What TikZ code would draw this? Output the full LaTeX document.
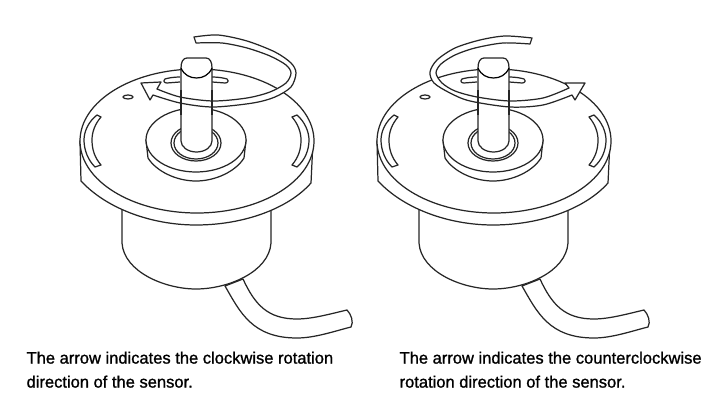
\documentclass[tikz,border=0pt]{standalone}
\usepackage{fontspec}
\setmainfont[FakeBold=1.2]{Liberation Sans}
\begin{document}
\begin{tikzpicture}[x=0.02cm, y=-0.02cm, line width=0.7pt, line join=round,
    part/.style={draw=black!85, fill=white},
    caption/.style={anchor=north west, inner sep=0pt, align=left, font=\fontsize{9.4}{13.66}\selectfont},
  ]

\useasboundingbox (0,0) rectangle (722,408);

%both sensors
\foreach \dx in {0,297}
{
\begin{scope}[xshift=\dx*0.02cm]
	%cable
	\draw[part] (225,286) .. controls (240,312) and (252,338) .. (297,338) .. controls (315,338) and (335,331) .. (351,327) .. controls (354,322) and (351,314) .. (347,310) .. controls (330,314) and (312,319) .. (297,319) .. controls (268,319) and (255,305) .. (243,279) -- cycle;
	%body
	\draw[part] (122,200) -- (122,243) .. controls (124,272) and (165,289) .. (196,289) .. controls (228,289) and (269,272) .. (271,243) -- (271,200);
	%disc
	\draw[part] (80,141) -- (81,181) .. controls (107,209) and (152,225) .. (196,225) .. controls (243,225) and (288,209) .. (311,183) -- (313,141) -- cycle;
	\draw[part] (197,141) ellipse [x radius=117, y radius=72];
	%slots
	\draw[part] (97,115) .. controls (88,122) and (84,132) .. (84,140) .. controls (84,150) and (88,160) .. (95,167) -- (101,165) .. controls (95,158) and (92,150) .. (92,140) .. controls (92,132) and (95,124) .. (101,117) -- cycle;
	\draw[part] (297,115) .. controls (305,122) and (309,132) .. (309,140) .. controls (309,150) and (305,160) .. (297,167) -- (292,165) .. controls (298,158) and (301,150) .. (301,140) .. controls (301,132) and (298,124) .. (292,117) -- cycle;
	\draw[part] (180,77) .. controls (174,77) and (168,78) .. (165,79) .. controls (163,81) and (164,83) .. (167,83) -- (180,82);
	\draw[part] (212,77) .. controls (218,77) and (224,78) .. (227,79) .. controls (229,81) and (228,83) .. (225,83) -- (212,82);
	\draw[part] (128,97) ellipse [x radius=5, y radius=2];
	%boss
	\draw[part] (146,140) -- (148,158) .. controls (156,171) and (176,181) .. (196,181) .. controls (216,181) and (236,171) .. (244,158) -- (246,140) -- cycle;
	\draw[part] (196,140) ellipse [x radius=50, y radius=32];
	\draw[part] (196,143) ellipse [x radius=25, y radius=18];
	\draw[part] (196,143) ellipse [x radius=22, y radius=16];
	%shaft
	\draw[part] (181,68) .. controls (181,62) and (183,58) .. (187,58) -- (206,58) .. controls (210,58) and (212,62) .. (212,68) -- (212,141) .. controls (212,147) and (205,152) .. (196.5,152) .. controls (188,152) and (181,147) .. (181,141) -- cycle;
	\draw (181,68) .. controls (184,75) and (190,78) .. (196.5,78) .. controls (203,78) and (209,75) .. (212,68);
\end{scope}
}

%arrow clockwise
\draw[part] plot[smooth] coordinates {(194,37) (218,35) (247,41) (275,52) (291,63) (296,73) (291,87) (275,97) (253,103) (213,107) (180,103) (153,95)}
	-- (150,100) -- (141,83) -- (161,82) -- (157,89)
	-- plot[smooth] coordinates {(157,89) (180,97) (213,101) (247,98) (270,92) (286,83) (291,73) (286,65) (270,56) (247,48) (222,43) (196,43)} -- cycle;

%arrow counterclockwise
\draw[part] plot[smooth] coordinates {(532,38) (505,36) (480,40) (455,48) (437,60) (430,72) (434,83) (450,93) (470,101) (510,107) (543,105) (572,95)}
	-- (575,100) -- (585,83) -- (565,83) -- (569,88)
	-- plot[smooth] coordinates {(569,88) (543,98) (510,101) (477,97) (455,91) (442,83) (436,73) (441,64) (455,55) (475,48) (503,43) (530,44)} -- cycle;

%shaft lines seen through the arrows
\foreach \dx in {0,297}
{
	\draw[draw=black!85] (181+\dx,90) -- (181+\dx,115);
	\draw[draw=black!85] (212+\dx,90) -- (212+\dx,115);
}

\node[caption] (clockwise) at (26,351) {The arrow indicates the clockwise rotation\\direction of the sensor.};
\node[caption] (counterclockwise) at (399,351) {The arrow indicates the counterclockwise\\rotation direction of the sensor.};

\end{tikzpicture}
\end{document}
